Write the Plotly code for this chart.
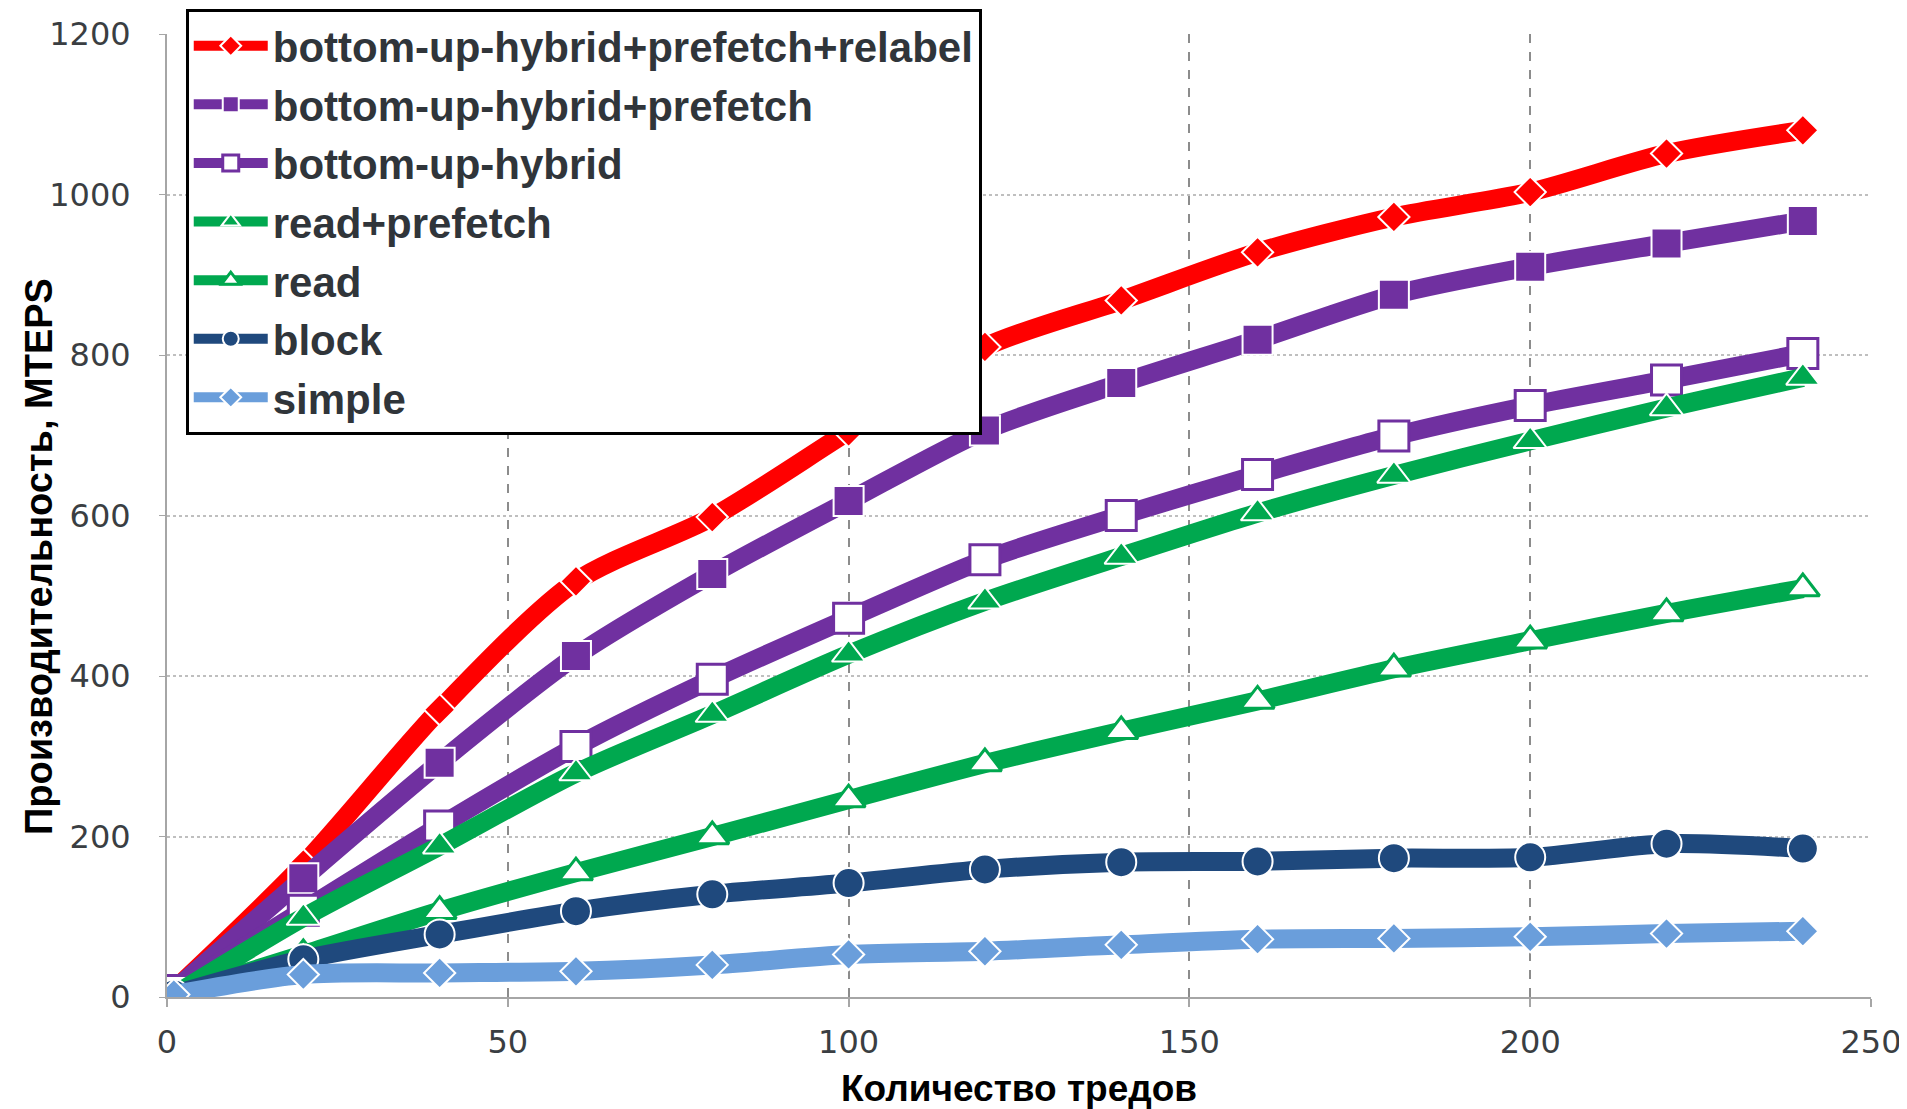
import plotly.graph_objects as go

threads = [1, 20, 40, 60, 80, 100, 120, 140, 160, 180, 200, 220, 240]
relabel = [8, 165, 358, 518, 598, 705, 810, 868, 928, 972, 1003, 1051, 1080]
prefetch = [8, 148, 292, 425, 527, 618, 706, 765, 819, 875, 910, 939, 967]
hybrid = [8, 108, 213, 312, 396, 472, 545, 600, 651, 699, 737, 769, 802]
read_prefetch = [2, 99, 188, 279, 352, 427, 493, 549, 603, 650, 693, 734, 772]
read = [2, 53, 107, 155, 200, 246, 291, 331, 369, 409, 444, 478, 509]
block = [3, 47, 78, 107, 128, 142, 159, 168, 169, 173, 174, 191, 185]
simple = [3, 28, 30, 32, 40, 53, 57, 65, 72, 73, 75, 79, 82]

names = ["bottom-up-hybrid+prefetch+relabel", "bottom-up-hybrid+prefetch", "bottom-up-hybrid",
         "read+prefetch", "read", "block", "simple"]
x_title = "Количество тредов"
y_title = "Производительность, MTEPS"

RED = "#FF0000"
PURPLE = "#7030A0"
GREEN = "#00A84F"
DBLUE = "#1F497D"
LBLUE = "#6A9EDB"

series = [
    (names[0], relabel, RED, "diamond", RED, "white", 2, 24),
    (names[1], prefetch, PURPLE, "square", PURPLE, "white", 2, 30),
    (names[2], hybrid, PURPLE, "square", "white", PURPLE, 3, 30),
    (names[3], read_prefetch, GREEN, "triangle-up", GREEN, "white", 2, 29),
    (names[4], read, GREEN, "triangle-up", "white", GREEN, 3, 29),
    (names[5], block, DBLUE, "circle", DBLUE, "white", 2, 30),
    (names[6], simple, LBLUE, "diamond", LBLUE, "white", 2, 24),
]

fig = go.Figure()
for i, (nm, ys, col, sym, fill, lcol, lw, sz) in enumerate(series):
    fig.add_trace(go.Scatter(
        x=threads, y=ys, name=nm, mode="lines+markers",
        legendgroup=str(i),
        line=dict(color=col, width=19, shape="spline", smoothing=0.8),
        marker=dict(symbol=sym, color=fill, size=sz, line=dict(color=lcol, width=lw)),
    ))

fig.add_annotation(
    text="<b>" + y_title + "</b>", textangle=-90,
    xref="paper", yref="paper", x=-0.075, y=0.457,
    xanchor="center", yanchor="middle", showarrow=False,
    font=dict(size=38, color="black"),
)
fig.add_annotation(
    text="<b>" + x_title + "</b>",
    xref="paper", yref="paper", x=0.5, y=-0.1175,
    xanchor="center", yanchor="bottom", showarrow=False, borderpad=0,
    font=dict(size=37, color="black"),
)

fig.update_layout(
    width=1899, height=1101,
    margin=dict(l=159, r=36, t=26, b=112, autoexpand=False),
    paper_bgcolor="white", plot_bgcolor="white",
    font=dict(family="Liberation Sans, Arial, sans-serif", color="#3A3E42"),
    showlegend=True,
    legend=dict(
        x=0.011, y=1.026, xanchor="left", yanchor="top",
        bordercolor="black", borderwidth=3, bgcolor="white",
        font=dict(size=42, color="#30353A", weight="bold"),
        itemwidth=74, tracegroupgap=1, traceorder="grouped",
    ),
    xaxis=dict(
        range=[0, 250], tickvals=[0, 50, 100, 150, 200, 250],
        showgrid=True, gridcolor="#8C8C8C", griddash="dash", gridwidth=1.5,
        showline=True, linecolor="#A6A6A6", linewidth=2,
        ticks="outside", ticklen=8, tickcolor="#A6A6A6", tickwidth=1.5,
        tickfont=dict(size=32, color="#3A3E42", family="DejaVu Sans"),
        ticklabelstandoff=8,
        zeroline=False, automargin=False,
    ),
    yaxis=dict(
        range=[0, 1200], tickvals=[0, 200, 400, 600, 800, 1000, 1200],
        showgrid=True, gridcolor="#BFBFBF", griddash="dot", gridwidth=1.5,
        showline=True, linecolor="#A6A6A6", linewidth=2,
        ticks="outside", ticklen=6, tickcolor="#A6A6A6",
        tickfont=dict(size=32, color="#3A3E42", family="DejaVu Sans"),
        ticklabelstandoff=22,
        zeroline=False, automargin=False,
    ),
)

fig.write_html("out.html")
